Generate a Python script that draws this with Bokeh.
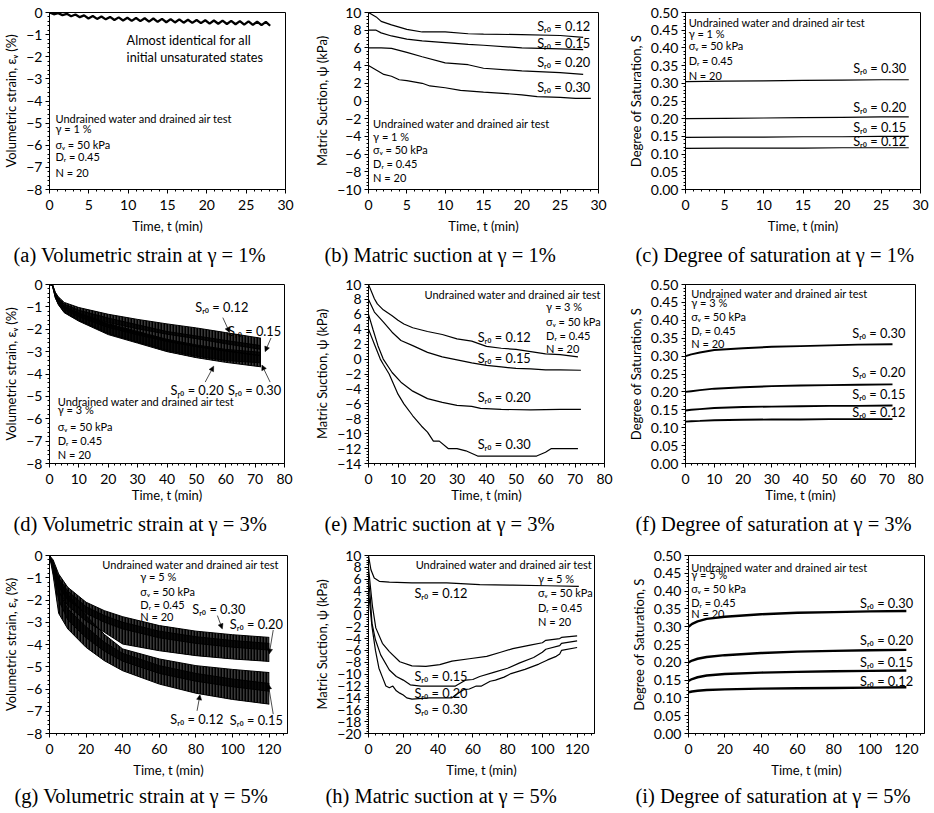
from bokeh.plotting import figure
from bokeh.models import (Label, Arrow, NormalHead, Title, Range1d,
                          SingleIntervalTicker, NumeralTickFormatter)
from bokeh.layouts import column, row
from bokeh.embed import file_html
from bokeh.resources import INLINE

SANS = "Lato"
SERIF = "Liberation Serif"

# ---------------- data ----------------
# (a) volumetric strain, gamma = 1 %
a_t = [0.0, 0.55, 1.1, 1.65, 2.2, 2.75, 3.3, 3.85, 4.4, 4.95,
       5.5, 6.05, 6.6, 7.15, 7.7, 8.25, 8.8, 9.35, 9.9, 10.45,
       11.0, 11.55, 12.1, 12.65, 13.2, 13.75, 14.3, 14.85, 15.4, 15.95,
       16.5, 17.05, 17.6, 18.15, 18.7, 19.25, 19.8, 20.35, 20.9, 21.45,
       22.0, 22.55, 23.1, 23.65, 24.2, 24.75, 25.3, 25.85, 26.4, 26.95,
       27.5, 28.05]
a_ev = [0.0, -0.08, -0.03, -0.12, -0.06, -0.17, -0.09, -0.21, -0.13, -0.27,
        -0.16, -0.29, -0.18, -0.31, -0.20, -0.34, -0.22, -0.36, -0.24, -0.38,
        -0.25, -0.39, -0.26, -0.41, -0.27, -0.42, -0.29, -0.44, -0.30, -0.45,
        -0.31, -0.46, -0.33, -0.47, -0.34, -0.48, -0.35, -0.50, -0.36, -0.51,
        -0.37, -0.52, -0.38, -0.53, -0.39, -0.55, -0.40, -0.56, -0.41, -0.57,
        -0.42, -0.60]

# (b) matric suction, gamma = 1 %
b_t = [0, 1, 1.65, 3, 5, 7, 10, 13, 15, 20, 25, 28]
b_012 = [10.0, 9.5, 9.0, 8.6, 8.1, 7.8, 7.8, 7.6, 7.55, 7.5, 7.4, 7.2]
b_015 = [8.0, 8.0, 7.7, 7.35, 7.0, 6.8, 6.6, 6.4, 6.3, 6.0, 5.9, 5.8]
b_020 = [6.0, 6.0, 6.0, 5.95, 5.5, 5.0, 4.3, 4.1, 3.7, 3.4, 3.2, 3.0]
b_t30 = [0, 1, 2, 3, 4, 5, 7, 8, 10, 12, 15, 17, 20, 22, 25, 27, 29]
b_030 = [4.0, 3.5, 3.0, 2.8, 2.4, 2.3, 2.0, 1.7, 1.5, 1.2, 1.0, 0.9, 0.7, 0.5, 0.4, 0.3, 0.3]

# (c) degree of saturation, gamma = 1 %
c_t = [0, 5, 10, 15, 20, 25, 28.5]
c_030 = [0.305, 0.306, 0.307, 0.308, 0.309, 0.310, 0.310]
c_020 = [0.200, 0.201, 0.202, 0.203, 0.204, 0.205, 0.205]
c_015 = [0.147, 0.148, 0.148, 0.149, 0.149, 0.150, 0.150]
c_012 = [0.116, 0.117, 0.117, 0.117, 0.118, 0.118, 0.118]

# (d) volumetric strain band envelopes, gamma = 3 %
d_t = [0, 1, 2, 3, 5, 10, 20, 30, 40, 50, 60, 72]
d12_up = [0, 0, -0.35, -0.55, -0.80, -1.03, -1.33, -1.56, -1.76, -1.94, -2.15, -2.40]
d12_lo = [0, -0.05, -0.50, -0.75, -1.02, -1.30, -1.70, -1.98, -2.22, -2.42, -2.65, -2.90]
d15_up = [0, 0, -0.40, -0.62, -0.88, -1.15, -1.50, -1.80, -2.10, -2.30, -2.50, -2.73]
d15_lo = [0, -0.05, -0.55, -0.82, -1.12, -1.45, -1.92, -2.25, -2.55, -2.78, -2.98, -3.18]
d20_up = [0, 0, -0.45, -0.70, -0.98, -1.28, -1.75, -2.10, -2.45, -2.70, -2.90, -3.03]
d20_lo = [0, -0.05, -0.60, -0.88, -1.23, -1.60, -2.20, -2.58, -2.95, -3.20, -3.40, -3.50]
d30_up = [0, 0, -0.45, -0.72, -1.00, -1.30, -1.80, -2.15, -2.50, -2.75, -2.95, -3.18]
d30_lo = [0, -0.05, -0.60, -0.90, -1.26, -1.64, -2.24, -2.62, -3.00, -3.27, -3.48, -3.68]

# (e) matric suction, gamma = 3 %
e_t12 = [0, 2, 3, 5, 8, 10, 12, 15, 20, 25, 30, 35, 40, 45, 50, 55, 60, 65, 71]
e_012 = [10.0, 8.1, 7.4, 6.6, 5.8, 5.2, 4.7, 4.2, 3.7, 3.3, 2.7, 2.4, 1.7, 1.45, 1.3, 1.0, 0.7, 0.6, 0.3]
e_t15 = [0, 2, 5, 8, 11, 15, 20, 25, 30, 35, 40, 45, 50, 55, 60, 65, 72]
e_015 = [8.0, 6.3, 5.0, 3.6, 2.5, 1.8, 0.9, 0.3, -0.1, -0.5, -0.85, -1.05, -1.25, -1.3, -1.45, -1.45, -1.5]
e_t20 = [0, 1.5, 3.2, 5, 8, 11, 15, 20, 25, 30, 35, 38, 45, 55, 65, 72]
e_020 = [6.0, 4.0, 1.8, 0.0, -1.8, -3.1, -4.3, -5.3, -5.8, -6.2, -6.35, -6.6, -6.75, -6.8, -6.75, -6.75]
e_t30 = [0, 2, 4, 5, 7, 8, 10, 12, 15, 18, 20, 22, 24, 27, 30, 33, 37, 45, 57, 60, 62, 71]
e_030 = [4.0, 2.0, 0.0, -0.7, -2.0, -2.9, -4.7, -6.0, -7.6, -9.0, -9.8, -11.0, -11.0, -12.0,
         -12.0, -12.3, -13.0, -13.0, -13.0, -12.5, -12.0, -12.0]

# (f) degree of saturation, gamma = 3 %
f_t = [0, 2, 5, 10, 20, 30, 40, 50, 60, 72]
f_030 = [0.300, 0.305, 0.310, 0.317, 0.322, 0.326, 0.328, 0.330, 0.332, 0.333]
f_020 = [0.200, 0.202, 0.205, 0.209, 0.213, 0.216, 0.218, 0.219, 0.220, 0.221]
f_015 = [0.148, 0.150, 0.152, 0.155, 0.158, 0.159, 0.160, 0.161, 0.161, 0.162]
f_012 = [0.117, 0.118, 0.119, 0.121, 0.122, 0.123, 0.123, 0.124, 0.124, 0.124]

# (g) volumetric strain band envelopes, gamma = 5 %
g_t = [0, 2, 5, 10, 20, 30, 40, 60, 80, 100, 120]
g30_up = [0, -0.20, -0.83, -1.43, -2.10, -2.48, -2.75, -3.15, -3.40, -3.56, -3.68]
g30_lo = [0, -0.50, -1.40, -2.00, -2.60, -3.00, -3.30, -3.70, -3.95, -4.12, -4.25]
g20_up = [0, -0.30, -1.00, -1.60, -2.30, -2.70, -3.00, -3.40, -3.65, -3.82, -3.95]
g20_lo = [0, -0.60, -1.60, -2.25, -2.95, -3.45, -3.98, -4.28, -4.50, -4.65, -4.76]
g15_up = [0, -0.35, -1.10, -1.75, -2.70, -3.55, -4.20, -4.65, -4.95, -5.12, -5.26]
g15_lo = [0, -0.70, -2.00, -2.90, -3.70, -4.30, -4.75, -5.30, -5.65, -5.90, -6.10]
g12_up = [0, -0.50, -1.60, -2.40, -3.20, -3.90, -4.40, -4.95, -5.30, -5.55, -5.75]
g12_lo = [0, -0.90, -2.60, -3.30, -4.13, -4.73, -5.18, -5.78, -6.19, -6.47, -6.68]

# (h) matric suction, gamma = 5 %
h_t12 = [0, 1.4, 3.3, 6.2, 12, 25, 45, 64, 83, 103, 121]
h_012 = [10.0, 7.6, 6.2, 5.65, 5.5, 5.4, 5.4, 5.1, 5.0, 4.9, 4.8]
h_t15 = [0, 1, 2.3, 4.2, 8, 12, 18, 25, 33, 41, 48, 58, 68, 76, 83, 93, 100, 102, 110, 111, 120]
h_015 = [8.0, 5.0, 1.4, -2.2, -4.8, -6.2, -7.9, -8.6, -8.7, -8.4, -7.8, -7.4, -7.0, -6.3, -5.7,
         -5.1, -4.7, -4.3, -4.0, -3.8, -3.55]
h_t20 = [0, 1, 2, 4, 7, 12, 16, 20, 24, 30, 40, 50, 53, 56, 60, 64, 72, 80, 87, 95,
         100, 102, 110, 111, 120]
h_020 = [6.0, 3.0, -1.4, -4.2, -6.75, -9.3, -10.4, -11.0, -11.8, -12.0, -12.0, -12.0, -11.5,
         -11.0, -10.9, -10.4, -9.7, -9.0, -8.1, -7.2, -6.3, -5.8, -5.2, -4.8, -4.4]
h_t30 = [0, 1, 2, 4, 6, 8, 10, 12, 14, 16, 18, 20, 22, 25, 35, 48, 50, 55, 58, 62,
         65, 70, 73, 78, 82, 90, 98, 103, 108, 110, 111, 120]
h_030 = [4.0, 1.0, -2.0, -6.0, -9.0, -10.5, -12.0, -12.3, -12.0, -12.8, -13.2, -13.5, -14.0,
         -14.2, -14.0, -14.0, -13.5, -12.6, -12.5, -12.0, -12.0, -11.2, -11.0, -10.5, -9.9,
         -9.2, -8.3, -7.6, -7.0, -6.6, -6.0, -5.5]

# (i) degree of saturation, gamma = 5 %
i_t = [0, 2, 5, 10, 20, 40, 60, 80, 100, 120]
i_030 = [0.300, 0.308, 0.315, 0.322, 0.328, 0.335, 0.339, 0.341, 0.343, 0.344]
i_020 = [0.200, 0.205, 0.210, 0.215, 0.220, 0.226, 0.230, 0.232, 0.234, 0.235]
i_015 = [0.148, 0.153, 0.158, 0.163, 0.167, 0.171, 0.173, 0.175, 0.176, 0.177]
i_012 = [0.116, 0.118, 0.120, 0.122, 0.124, 0.126, 0.127, 0.128, 0.129, 0.130]

XLABEL = "Time, t (min)"
YL_EV = "Volumetric strain, εᵥ (%)"
YL_PSI = "Matric Suction, ψ (kPa)"
YL_S = "Degree of Saturation, S"
S_LABELS = ["Sᵣ₀ = 0.12", "Sᵣ₀ = 0.15", "Sᵣ₀ = 0.20", "Sᵣ₀ = 0.30"]


def info_lines(g):
    return ["Undrained water and drained air test", "γ = %d %%" % g,
            "σᵥ = 50 kPa", "Dᵣ = 0.45", "N = 20"]


W = 311
SLAB = "12.8px"
INFO = "11px"


def make_fig(left, right, top, fh, h, xr, yr, xint, yint, ylabel, caption,
             yfmt=None, lab_stand=4, title_stand=10):
    bottom = h - top - fh
    p = figure(width=W, height=h, x_range=Range1d(*xr), y_range=Range1d(*yr),
               output_backend="svg", toolbar_location=None, title=None,
               min_border_left=left, min_border_right=right,
               min_border_top=top, min_border_bottom=bottom)
    p.grid.visible = False
    p.outline_line_color = "black"
    p.outline_line_alpha = 1.0
    p.outline_line_width = 1
    p.background_fill_color = "white"
    p.border_fill_color = "white"
    p.xaxis.ticker = SingleIntervalTicker(interval=xint, num_minor_ticks=5)
    p.yaxis.ticker = SingleIntervalTicker(interval=yint, num_minor_ticks=5)
    if yfmt:
        p.yaxis.formatter = NumeralTickFormatter(format=yfmt)
    for ax in (p.xaxis[0], p.yaxis[0]):
        ax.axis_line_color = "black"
        ax.major_tick_line_color = "black"
        ax.minor_tick_line_color = "black"
        ax.major_label_text_color = "black"
        ax.axis_label_text_color = "black"
        ax.axis_label_text_font_style = "normal"
        ax.axis_label_text_font = SANS
        ax.major_label_text_font = SANS
        ax.major_label_text_font_size = "14px"
        ax.axis_label_text_font_size = "13px"
        ax.major_tick_in = 0
        ax.major_tick_out = 4
        ax.minor_tick_in = 0
        ax.minor_tick_out = 2
        ax.axis_label_standoff = 4
    p.xaxis.axis_label_standoff = lab_stand
    p.xaxis.major_label_standoff = 6
    p.yaxis.major_label_standoff = 3
    p.xaxis.axis_label = XLABEL
    p.yaxis.axis_label = ylabel
    t = Title(text=caption, align="left", offset=13 - left, standoff=title_stand,
              text_font=SERIF, text_font_size="20.5px", text_font_style="normal",
              text_color="black")
    p.add_layout(t, "below")
    return p


def lab(p, x, y, text, size=INFO, align="left"):
    p.add_layout(Label(x=x, y=y, text=text, text_font=SANS, text_font_size=size,
                       text_align=align, text_baseline="middle", text_color="black"))


def info(p, x, ys, g, first_right=None):
    lines = info_lines(g)
    for k, (txt, yy) in enumerate(zip(lines, ys)):
        if k == 0 and first_right is not None:
            lab(p, first_right, yy, txt, align="right")
        else:
            lab(p, x, yy, txt)


def arrow(p, x0, y0, x1, y1):
    p.add_layout(Arrow(end=NormalHead(size=5, line_color="black", fill_color="black",
                                      line_width=0.5),
                       x_start=x0, y_start=y0, x_end=x1, y_end=y1,
                       line_color="black", line_width=0.7))


def band(p, t, up, lo):
    p.varea(x=t, y1=lo, y2=up, fill_color="black", fill_alpha=0.78,
            hatch_pattern="|", hatch_color="black", hatch_weight=2, hatch_scale=3)
    p.line(t, up, line_color="black", line_width=1)
    p.line(t, lo, line_color="black", line_width=1)


# row heights / frame heights
H1, F1, T1 = 270, 178, 12
H2, F2, T2 = 270, 179, 14
H3, F3, T3 = 272, 178, 15

# ---------------- (a) ----------------
pa = make_fig(49, 26, T1, F1, H1, (0, 30), (-8, 0), 5, 1, YL_EV,
              "(a) Volumetric strain at γ = 1%", lab_stand=5, title_stand=10)
pa.line(a_t, a_ev, line_color="black", line_width=2.3)
lab(pa, 9.8, -1.24, "Almost identical for all", size="12.7px")
lab(pa, 9.8, -1.99, "initial unsaturated states", size="12.7px")
info(pa, 0.76, [-4.78, -5.23, -5.95, -6.53, -7.22], 1)

# ---------------- (b) ----------------
pb = make_fig(57, 24, T1, F1, H1, (0, 30), (-10, 10), 5, 2, YL_PSI,
              "(b) Matric suction at γ = 1%", lab_stand=5, title_stand=10)
for ys in (b_012, b_015, b_020):
    pb.line(b_t, ys, line_color="black", line_width=1.2)
pb.line(b_t30, b_030, line_color="black", line_width=1.2)
for txt, yy in zip(S_LABELS, [8.5, 6.5, 4.4, 1.6]):
    lab(pb, 22.0, yy, txt, size=SLAB)
info(pb, 0.6, [-2.5, -4.0, -5.5, -7.05, -8.6], 1)

# ---------------- (c) ----------------
pc = make_fig(63, 13, T1, F1, H1, (0, 30), (0, 0.5), 5, 0.05, YL_S,
              "(c) Degree of saturation at γ = 1%", yfmt="0.00", lab_stand=5, title_stand=10)
for ys in (c_030, c_020, c_015, c_012):
    pc.line(c_t, ys, line_color="black", line_width=1.2)
for txt, yy in zip(S_LABELS, [0.136, 0.176, 0.233, 0.343]):
    lab(pc, 21.4, yy, txt, size=SLAB)
info(pc, 0.4, [0.472, 0.442, 0.406, 0.365, 0.321], 1)

# ---------------- (d) ----------------
pd_ = make_fig(49, 27, T2, F2, H2, (0, 80), (-8, 0), 10, 1, YL_EV,
               "(d) Volumetric strain at γ = 3%", lab_stand=0, title_stand=10)
for up, lo in ((d12_up, d12_lo), (d15_up, d15_lo), (d20_up, d20_lo), (d30_up, d30_lo)):
    band(pd_, d_t, up, lo)
lab(pd_, 49.6, -1.0, S_LABELS[0], size=SLAB)
lab(pd_, 60.8, -2.06, S_LABELS[1], size=SLAB)
lab(pd_, 41.2, -4.7, S_LABELS[2], size=SLAB)
lab(pd_, 60.8, -4.7, S_LABELS[3], size=SLAB)
arrow(pd_, 59.0, -1.48, 61.3, -2.14)
arrow(pd_, 75.4, -2.39, 73.4, -3.0)
arrow(pd_, 53.0, -4.36, 55.9, -3.65)
arrow(pd_, 75.1, -4.36, 72.3, -3.6)
info(pd_, 2.8, [-5.24, -5.6, -6.36, -6.98, -7.62], 3)

# ---------------- (e) ----------------
pe = make_fig(57, 18, T2, F2, H2, (0, 80), (-14, 10), 10, 2, YL_PSI,
              "(e) Matric suction at γ = 3%", lab_stand=0, title_stand=10)
pe.line(e_t12, e_012, line_color="black", line_width=1.2)
pe.line(e_t15, e_015, line_color="black", line_width=1.2)
pe.line(e_t20, e_020, line_color="black", line_width=1.2)
pe.line(e_t30, e_030, line_color="black", line_width=1.2)
for txt, yy in zip(S_LABELS, [2.9, 0.15, -5.1, -11.4]):
    lab(pe, 37, yy, txt, size=SLAB)
info(pe, 60.2, [8.65, 7.05, 5.1, 3.15, 1.36], 3, first_right=78.9)

# ---------------- (f) ----------------
pf = make_fig(63, 18, T2, F2, H2, (0, 80), (0, 0.5), 10, 0.05, YL_S,
              "(f) Degree of saturation at γ = 3%", yfmt="0.00", lab_stand=0, title_stand=10)
for ys in (f_030, f_020, f_015, f_012):
    pf.line(f_t, ys, line_color="black", line_width=1.9)
for txt, yy in zip(S_LABELS, [0.144, 0.193, 0.256, 0.364]):
    lab(pf, 58.0, yy, txt, size=SLAB)
info(pf, 2, [0.475, 0.451, 0.411, 0.371, 0.334], 3)

# ---------------- (g) ----------------
pg = make_fig(48, 24, T3, F3, H3, (0, 130), (-8, 0), 20, 1, YL_EV,
              "(g) Volumetric strain at γ = 5%", lab_stand=5, title_stand=5)
for up, lo in ((g12_up, g12_lo), (g15_up, g15_lo), (g20_up, g20_lo), (g30_up, g30_lo)):
    band(pg, g_t, up, lo)
lab(pg, 78, -2.4, S_LABELS[3], size=SLAB)
lab(pg, 98.5, -3.08, S_LABELS[2], size=SLAB)
lab(pg, 66, -7.36, S_LABELS[0], size=SLAB)
lab(pg, 98.5, -7.4, S_LABELS[1], size=SLAB)
arrow(pg, 91.7, -2.7, 94.4, -3.3)
arrow(pg, 122.2, -3.35, 120.0, -4.43)
arrow(pg, 80.6, -6.98, 82.2, -6.26)
arrow(pg, 122.2, -7.13, 119.5, -5.78)
info(pg, 49.6, [-0.4, -0.95, -1.6, -2.18, -2.75], 5, first_right=125.4)

# ---------------- (h) ----------------
ph = make_fig(56, 28, T3, F3, H3, (0, 130), (-20, 10), 20, 2, YL_PSI,
              "(h) Matric suction at γ = 5%", lab_stand=5, title_stand=5)
ph.line(h_t12, h_012, line_color="black", line_width=1.2)
ph.line(h_t15, h_015, line_color="black", line_width=1.2)
ph.line(h_t20, h_020, line_color="black", line_width=1.2)
ph.line(h_t30, h_030, line_color="black", line_width=1.2)
for txt, yy in zip(S_LABELS, [3.7, -10.3, -13.2, -15.9]):
    lab(ph, 26.4, yy, txt, size=SLAB)
info(ph, 97.5, [8.5, 6.05, 3.7, 1.26, -1.1], 5, first_right=128.8)

# ---------------- (i) ----------------
pi = make_fig(66, 9, T3, F3, H3, (0, 130), (0, 0.5), 20, 0.05, YL_S,
              "(i) Degree of saturation at γ = 5%", yfmt="0.00", lab_stand=5, title_stand=5)
for ys in (i_030, i_020, i_015, i_012):
    pi.line(i_t, ys, line_color="black", line_width=2.4)
for txt, yy in zip(S_LABELS, [0.148, 0.2, 0.263, 0.366]):
    lab(pi, 94.5, yy, txt, size=SLAB)
info(pi, 1.5, [0.467, 0.446, 0.406, 0.369, 0.336], 5)

layout = column(row(pa, pb, pc), row(pd_, pe, pf), row(pg, ph, pi))
open("out.html", "w").write(file_html(layout, INLINE))
